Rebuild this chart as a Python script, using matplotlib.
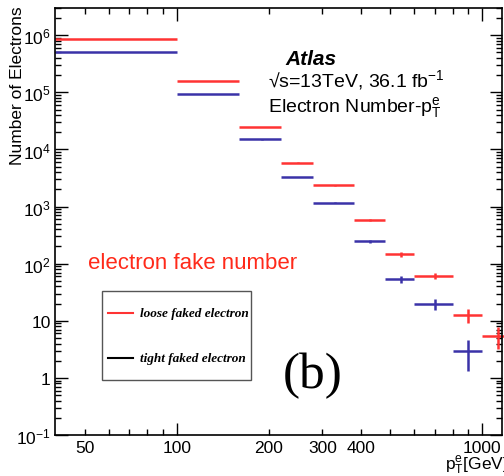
import matplotlib
matplotlib.use("Agg")
import matplotlib.pyplot as plt
import numpy as np
from matplotlib.lines import Line2D
from matplotlib.patches import Rectangle
from matplotlib.ticker import FixedLocator, FixedFormatter, NullFormatter, LogLocator

plt.rcParams["font.family"] = ["Liberation Sans", "DejaVu Sans"]
plt.rcParams["mathtext.fontset"] = "custom"
plt.rcParams["mathtext.rm"] = "Liberation Sans"
plt.rcParams["mathtext.it"] = "Liberation Sans:italic"

# bin edges in pT [GeV]
bin_edges = [40, 100, 160, 220, 280, 380, 480, 600, 800, 1000, 1250]

loose_counts = [8.6e5, 1.56e5, 2.46e4, 5850, 2370, 575, 145, 62, 12.7, 5.5]
loose_errors = [930, 395, 157, 76, 49, 24, 12, 7.9, 3.6, 2.35]

tight_counts = [5.0e5, 9.3e4, 1.5e4, 3300, 1175, 246, 53, 20, 3.0]
tight_errors = [707, 305, 122, 57, 34, 16, 7.3, 4.5, 1.7]

legend_labels = ["loose faked electron", "tight faked electron"]

xtick_values = [50, 100, 200, 300, 400, 1000]
xtick_labels = ["50", "100", "200", "300", "400", "1000"]
ytick_values = [1e-1, 1, 10, 1e2, 1e3, 1e4, 1e5, 1e6]
ytick_labels = [r"$\mathregular{10^{-1}}$", "1", "10", r"$\mathregular{10^{2}}$",
                r"$\mathregular{10^{3}}$", r"$\mathregular{10^{4}}$",
                r"$\mathregular{10^{5}}$", r"$\mathregular{10^{6}}$"]

red = "#ff3333"
blue = "#3a32a8"

edges = np.array(bin_edges, dtype=float)
centers = (edges[:-1] + edges[1:]) / 2
halfw = (edges[1:] - edges[:-1]) / 2

W, H = 504, 477
fig = plt.figure(figsize=(W / 100, H / 100), dpi=100)
ax = fig.add_axes([55 / W, 41 / H, 447 / W, 427 / H])

n_t = len(tight_counts)
ax.errorbar(centers[:n_t], tight_counts, xerr=halfw[:n_t], yerr=tight_errors,
            fmt="none", ecolor=blue, elinewidth=1.8, capsize=0, clip_on=False)
ax.errorbar(centers, loose_counts, xerr=halfw, yerr=loose_errors,
            fmt="none", ecolor=red, elinewidth=1.8, capsize=0, clip_on=False)

ax.set_xscale("log")
ax.set_yscale("log")
ax.set_xlim(40, 1160)
ax.set_ylim(0.1, 3e6)

ax.xaxis.set_major_locator(FixedLocator([100, 1000]))
ax.xaxis.set_minor_locator(FixedLocator([50, 60, 70, 80, 90, 200, 300, 400, 500,
                                         600, 700, 800, 900]))
ax.xaxis.set_major_formatter(NullFormatter())
ax.xaxis.set_minor_formatter(NullFormatter())
for v, lab in zip(xtick_values, xtick_labels):
    ax.text(v, -5 / 427, lab, transform=ax.get_xaxis_transform(), ha="center",
            va="top", fontsize=12.5, clip_on=False)

ax.yaxis.set_major_locator(FixedLocator(ytick_values))
ax.yaxis.set_major_formatter(FixedFormatter(ytick_labels))
ax.yaxis.set_minor_locator(LogLocator(base=10, subs=np.arange(2, 10)))
ax.yaxis.set_minor_formatter(NullFormatter())

ax.tick_params(which="both", direction="in", top=True, right=True, width=1)
ax.tick_params(which="major", length=9, labelsize=12.5, pad=3)
ax.tick_params(which="minor", length=4.5)
for s in ax.spines.values():
    s.set_linewidth(1.2)

fig.text(18 / W, 1 - 86 / H, "Number of Electrons", rotation=90,
         ha="center", va="center", fontsize=12.5)
# axis title runs past the right edge, as in the original
fig.text(445 / W, 1 - 470 / H, r"$\mathregular{p_{T}^{e}}$[GeV]",
         ha="left", va="baseline", fontsize=12.5)

fig.text(285 / W, 1 - 65 / H, "Atlas", fontsize=15, fontweight="bold",
         fontstyle="italic", ha="left", va="baseline")
fig.text(268 / W, 1 - 87 / H, r"√s=13TeV, 36.1 fb$^{\mathregular{-1}}$",
         fontsize=14, ha="left", va="baseline")
fig.text(268 / W, 1 - 112 / H, r"Electron Number-$\mathregular{p_{T}^{e}}$",
         fontsize=14, ha="left", va="baseline")
fig.text(88 / W, 1 - 269 / H, "electron fake number", color="#ff2a1a",
         fontsize=16, ha="left", va="baseline")
fig.text(283 / W, 1 - 388 / H, "(b)", fontsize=37,
         family="Liberation Serif", ha="left", va="baseline")

# legend box drawn in figure pixels
fig.patches.append(Rectangle((102 / W, 1 - 381 / H), 149 / W, 89 / H,
                             transform=fig.transFigure, fill=False,
                             edgecolor="#555555", linewidth=1.0))
for y_px, col, lab in zip([314, 359], [red, "black"], legend_labels):
    fig.lines.append(Line2D([108 / W, 133 / W], [1 - y_px / H, 1 - y_px / H],
                            transform=fig.transFigure, color=col, lw=1.5))
    fig.text(140 / W, 1 - y_px / H, lab, family="Liberation Serif",
             style="italic", weight="bold", fontsize=9.5, ha="left", va="center")

fig.savefig("out.png", dpi=100)
